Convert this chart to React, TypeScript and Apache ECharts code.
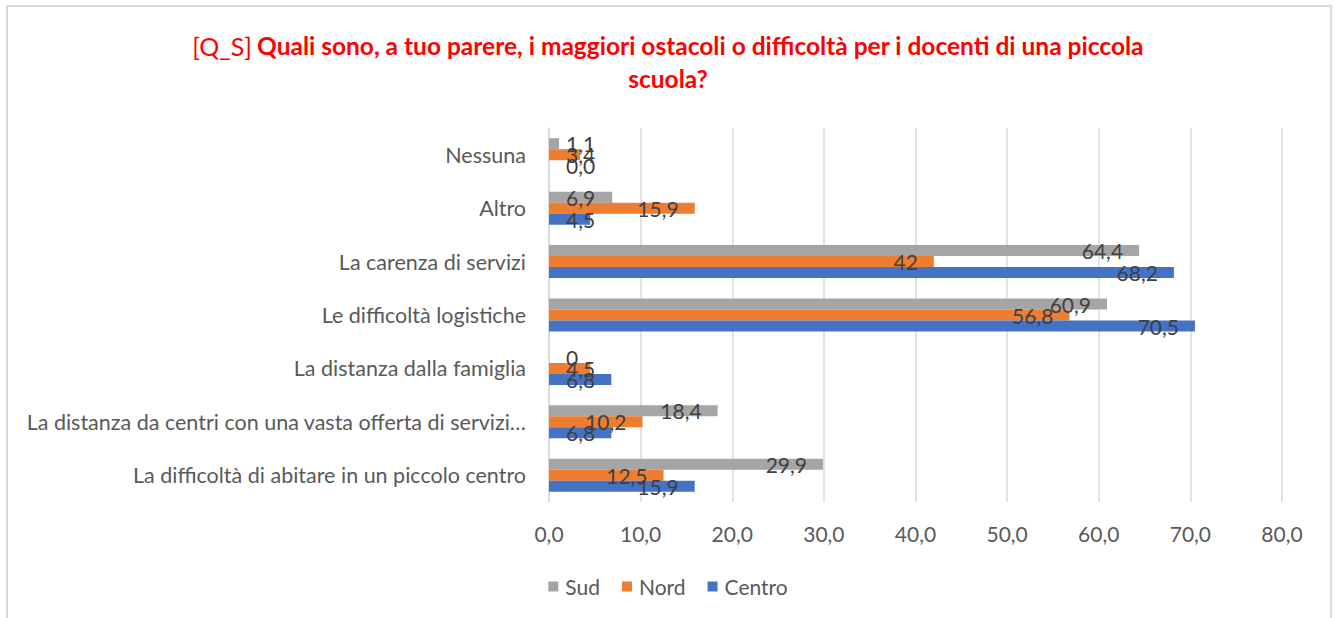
import React, { useEffect, useRef } from "react";
import * as echarts from "echarts";

const categories = [
  "La difficoltà di abitare in un piccolo centro",
  "La distanza da centri con una vasta offerta di servizi…",
  "La distanza dalla famiglia",
  "Le difficoltà logistiche",
  "La carenza di servizi",
  "Altro",
  "Nessuna",
];
const seriesNames = ["Sud", "Nord", "Centro"];
const sudValues = [29.9, 18.4, 0, 60.9, 64.4, 6.9, 1.1];
const nordValues = [12.5, 10.2, 4.5, 56.8, 42, 15.9, 3.4];
const centroValues = [15.9, 6.8, 6.8, 70.5, 68.2, 4.5, 0.0];
const sudLabels = ["29,9", "18,4", "0", "60,9", "64,4", "6,9", "1,1"];
const nordLabels = ["12,5", "10,2", "4,5", "56,8", "42", "15,9", "3,4"];
const centroLabels = ["15,9", "6,8", "6,8", "70,5", "68,2", "4,5", "0,0"];
const colors = ["#A5A5A5", "#ED7D31", "#4472C4"];

const FONT = "Lato";

function buildData(values: number[], labels: string[]) {
  return values.map((v, i) => ({
    value: v,
    label: {
      show: true,
      formatter: labels[i],
      position: v < 9 ? "insideLeft" : "insideRight",
      distance: v < 9 ? 17 : 16,
      color: "#404040",
      fontSize: 21,
      fontFamily: FONT,
    },
  }));
}

export default function App() {
  const ref = useRef<HTMLDivElement>(null);
  useEffect(() => {
    if (!ref.current) return;
    const chart = echarts.init(ref.current, null, { renderer: "svg" });
    const allValues = [sudValues, nordValues, centroValues];
    const allLabels = [sudLabels, nordLabels, centroLabels];
    chart.setOption({
      animation: false,
      backgroundColor: "#FFFFFF",
      title: {
        left: "center",
        top: 24,
        text:
          "{n|[Q_S]} {b|Quali sono, a tuo parere, i maggiori ostacoli o difficoltà per i docenti di una piccola}\n{b|scuola?}",
        textStyle: {
          fontWeight: "normal",
          rich: {
            n: { color: "#FF0000", fontSize: 25, fontWeight: "normal", fontFamily: FONT, lineHeight: 33 },
            b: { color: "#FF0000", fontSize: 24.5, fontWeight: "bold", fontFamily: FONT, lineHeight: 33 },
          },
        },
      },
      legend: {
        top: 571,
        left: "center",
        icon: "rect",
        itemWidth: 10,
        itemHeight: 10,
        itemGap: 22,
        data: seriesNames,
        textStyle: { color: "#595959", fontSize: 21, fontFamily: FONT, padding: [0, 0, 0, 2] },
      },
      grid: { left: 549, right: 54, top: 128, bottom: 116, containLabel: false },
      xAxis: {
        type: "value",
        min: 0,
        max: 80,
        interval: 10,
        axisLine: { show: false },
        axisTick: { show: false },
        splitLine: { show: true, lineStyle: { color: "#D9D9D9", width: 1.5 } },
        axisLabel: {
          color: "#595959",
          fontSize: 21,
          fontFamily: FONT,
          margin: 21,
          formatter: (v: number) => v.toFixed(1).replace(".", ","),
        },
      },
      yAxis: {
        type: "category",
        data: categories,
        axisLine: { show: true, lineStyle: { color: "#D9D9D9", width: 1.5 } },
        axisTick: { show: false },
        axisLabel: {
          color: "#595959",
          fontSize: 21.5,
          fontFamily: FONT,
          margin: 23,
        },
      },
      series: seriesNames.map((name, k) => ({
        name,
        type: "bar",
        barWidth: 11,
        barGap: "0%",
        itemStyle: { color: colors[k] },
        data: buildData(allValues[k], allLabels[k]),
      })),
      graphic: [
        {
          type: "rect",
          shape: { x: 7, y: 6, width: 1324, height: 630 },
          style: { fill: "none", stroke: "#D9D9D9", lineWidth: 2 },
          silent: true,
        },
      ],
    });
    return () => chart.dispose();
  }, []);
  return (
    <div
      ref={ref}
      style={{ position: "fixed", left: 0, top: 0, width: 1336, height: 618 }}
    />
  );
}
